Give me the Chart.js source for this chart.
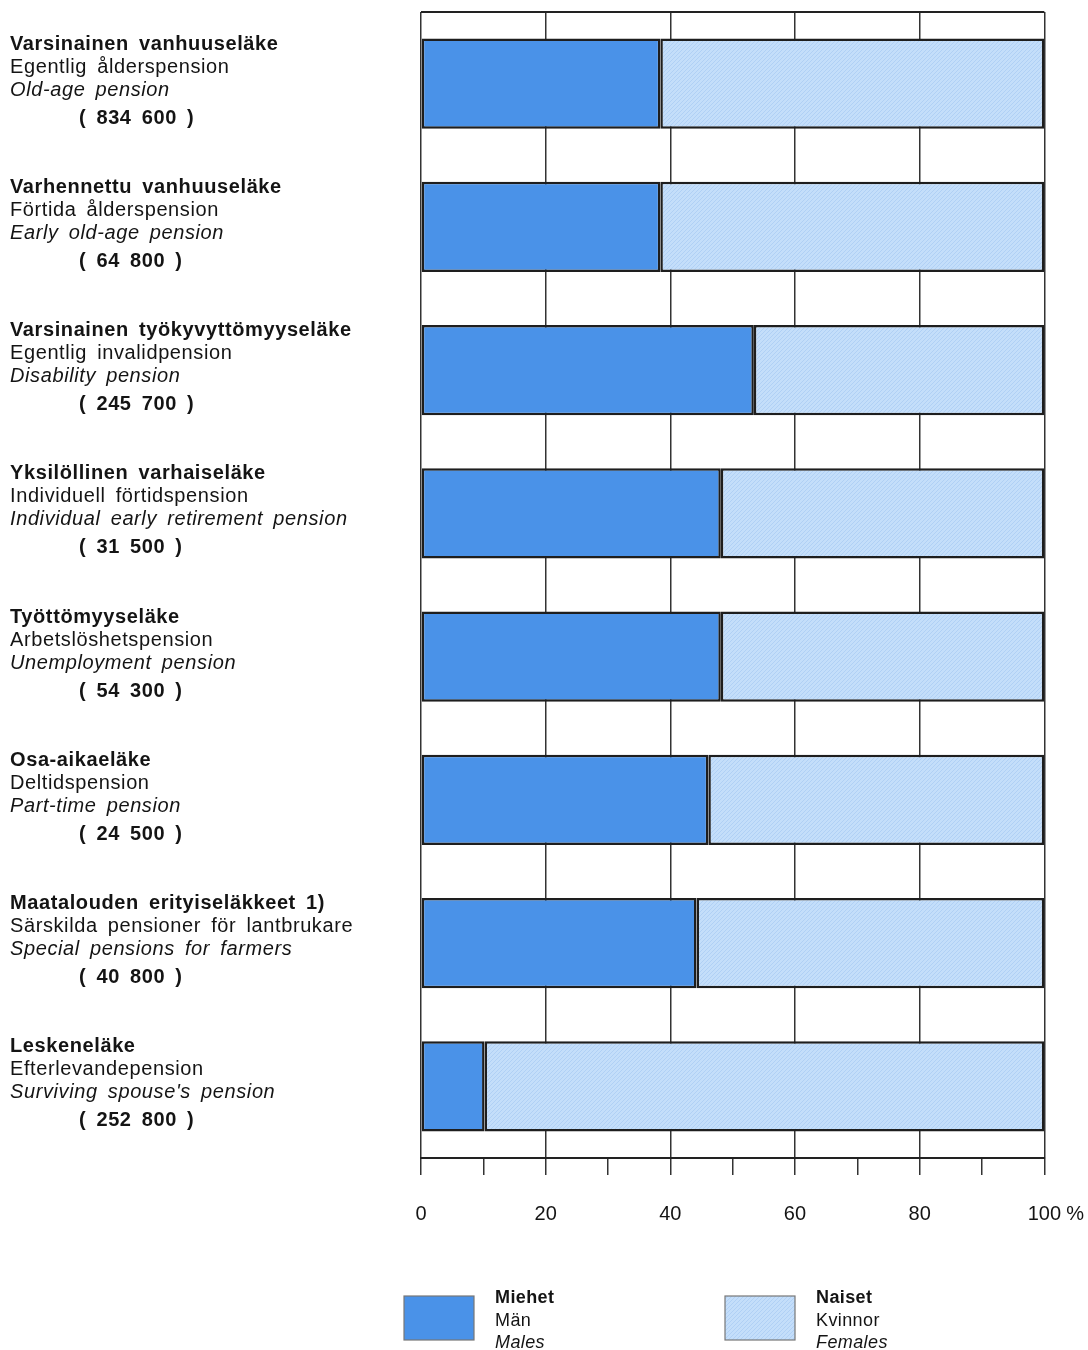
<!DOCTYPE html>
<html>
<head>
<meta charset="utf-8">
<script src="https://cdn.jsdelivr.net/npm/chart.js@4.4.1/dist/chart.umd.min.js"></script>
<style>
  body { margin: 0; background: #fff; }
  canvas { display: block; }
</style>
</head>
<body>
<canvas id="pensionChart" width="1088" height="1350"></canvas>
<script>
// Eläkkeensaajat sukupuolen mukaan (%)
var namesFi = ['Varsinainen vanhuuseläke', 'Varhennettu vanhuuseläke', 'Varsinainen työkyvyttömyyseläke',
  'Yksilöllinen varhaiseläke', 'Työttömyyseläke', 'Osa-aikaeläke', 'Maatalouden erityiseläkkeet 1)', 'Leskeneläke'];
var namesSv = ['Egentlig ålderspension', 'Förtida ålderspension', 'Egentlig invalidpension',
  'Individuell förtidspension', 'Arbetslöshetspension', 'Deltidspension', 'Särskilda pensioner för lantbrukare', 'Efterlevandepension'];
var namesEn = ['Old-age pension', 'Early old-age pension', 'Disability pension',
  'Individual early retirement pension', 'Unemployment pension', 'Part-time pension', 'Special pensions for farmers', "Surviving spouse's pension"];
var totals = ['834 600', '64 800', '245 700', '31 500', '54 300', '24 500', '40 800', '252 800'];

var males = [38.4, 38.4, 53.4, 48.1, 48.1, 46.1, 44.2, 10.2];
var females = [61.6, 61.6, 46.6, 51.9, 51.9, 53.9, 55.8, 89.8];

var xTicks = [0, 20, 40, 60, 80, 100];

var legendFi = ['Miehet', 'Naiset'];
var legendSv = ['Män', 'Kvinnor'];
var legendEn = ['Males', 'Females'];

Chart.defaults.font.family = '"Liberation Sans", Arial, sans-serif';
Chart.defaults.color = '#141414';

var ctx = document.getElementById('pensionChart').getContext('2d');

// light blue with a fine screen texture
function screenPattern() {
  var c = document.createElement('canvas');
  c.width = 4; c.height = 4;
  var g = c.getContext('2d');
  g.fillStyle = '#c4defa';
  g.fillRect(0, 0, 4, 4);
  g.fillStyle = '#b0d0f5';
  for (var i = 0; i < 4; i++) g.fillRect(i, 3 - i, 1, 1);
  return g.createPattern(c, 'repeat');
}
var maleColor = '#4a92e8';
var femaleColor = screenPattern();

var TICK_LEN = 17, TICK_PAD = 27;

var sidePlugin = {
  id: 'sideTexts',
  afterDraw: function(chart) {
    var c = chart.ctx, area = chart.chartArea, y = chart.scales.y, x = chart.scales.x;
    c.save();
    // top frame line
    c.strokeStyle = '#222';
    c.lineWidth = 2;
    c.beginPath();
    c.moveTo(area.left, area.top);
    c.lineTo(area.right, area.top);
    c.stroke();

    c.fillStyle = '#141414';
    c.textAlign = 'left';
    c.textBaseline = 'alphabetic';
    c.letterSpacing = '0.6px';
    c.wordSpacing = '4px';
    for (var i = 0; i < namesFi.length; i++) {
      var cy = y.getPixelForValue(i);
      c.font = 'bold 20px "Liberation Sans", Arial, sans-serif';
      c.fillText(namesFi[i], 10, cy - 34);
      c.font = '20px "Liberation Sans", Arial, sans-serif';
      c.fillText(namesSv[i], 10, cy - 11);
      c.font = 'italic 20px "Liberation Sans", Arial, sans-serif';
      c.fillText(namesEn[i], 10, cy + 12);
      c.font = 'bold 20px "Liberation Sans", Arial, sans-serif';
      c.fillText('( ' + totals[i] + ' )', 79, cy + 40);
    }

    // percent sign after the last tick label
    c.font = '20px "Liberation Sans", Arial, sans-serif';
    c.letterSpacing = '0px';
    c.wordSpacing = '0px';
    c.textBaseline = 'middle';
    c.fillText('%', x.getPixelForValue(100) + 22, area.bottom + TICK_LEN + TICK_PAD + 12);

    // legend
    c.textBaseline = 'alphabetic';
    var boxX = [404, 725];
    var fills = [chart.data.datasets[0].backgroundColor, chart.data.datasets[1].backgroundColor];
    for (var k = 0; k < 2; k++) {
      c.fillStyle = fills[k];
      c.fillRect(boxX[k], 1296, 70, 44);
      c.strokeStyle = '#777';
      c.lineWidth = 1.2;
      c.strokeRect(boxX[k], 1296, 70, 44);
      c.fillStyle = '#141414';
      var tx = boxX[k] + 91;
      c.letterSpacing = '0.4px';
      c.font = 'bold 18px "Liberation Sans", Arial, sans-serif';
      c.fillText(legendFi[k], tx, 1303);
      c.font = '18px "Liberation Sans", Arial, sans-serif';
      c.fillText(legendSv[k], tx, 1326);
      c.font = 'italic 18px "Liberation Sans", Arial, sans-serif';
      c.fillText(legendEn[k], tx, 1348);
    }
    c.restore();
  }
};

new Chart(ctx, {
  type: 'bar',
  data: {
    labels: namesFi,
    datasets: [
      {
        label: 'Miehet',
        data: males,
        backgroundColor: maleColor,
        borderColor: '#1e1e1e',
        borderWidth: 2.5,
        borderSkipped: false,
        categoryPercentage: 1,
        barPercentage: 0.63
      },
      {
        label: 'Naiset',
        data: females,
        backgroundColor: femaleColor,
        borderColor: '#1e1e1e',
        borderWidth: 2.5,
        borderSkipped: false,
        categoryPercentage: 1,
        barPercentage: 0.63
      }
    ]
  },
  options: {
    responsive: false,
    animation: false,
    indexAxis: 'y',
    layout: { padding: { left: 421, right: 37, top: 12, bottom: 97 } },
    plugins: {
      legend: { display: false },
      tooltip: { enabled: false }
    },
    scales: {
      x: {
        stacked: true,
        min: 0,
        max: 100,
        border: { display: true, color: '#222', width: 2 },
        grid: {
          color: function(c) { return c.tick && xTicks.indexOf(c.tick.value) >= 0 ? '#333' : 'rgba(0,0,0,0)'; },
          tickColor: '#333',
          lineWidth: 1.5,
          tickWidth: 1.5,
          tickLength: TICK_LEN
        },
        ticks: {
          stepSize: 10,
          autoSkip: false,
          maxRotation: 0,
          padding: TICK_PAD,
          font: { size: 20 },
          color: '#141414',
          callback: function(v) { return xTicks.indexOf(v) >= 0 ? String(v) : ''; }
        }
      },
      y: {
        stacked: true,
        display: false
      }
    }
  },
  plugins: [sidePlugin]
});
</script>
</body>
</html>
